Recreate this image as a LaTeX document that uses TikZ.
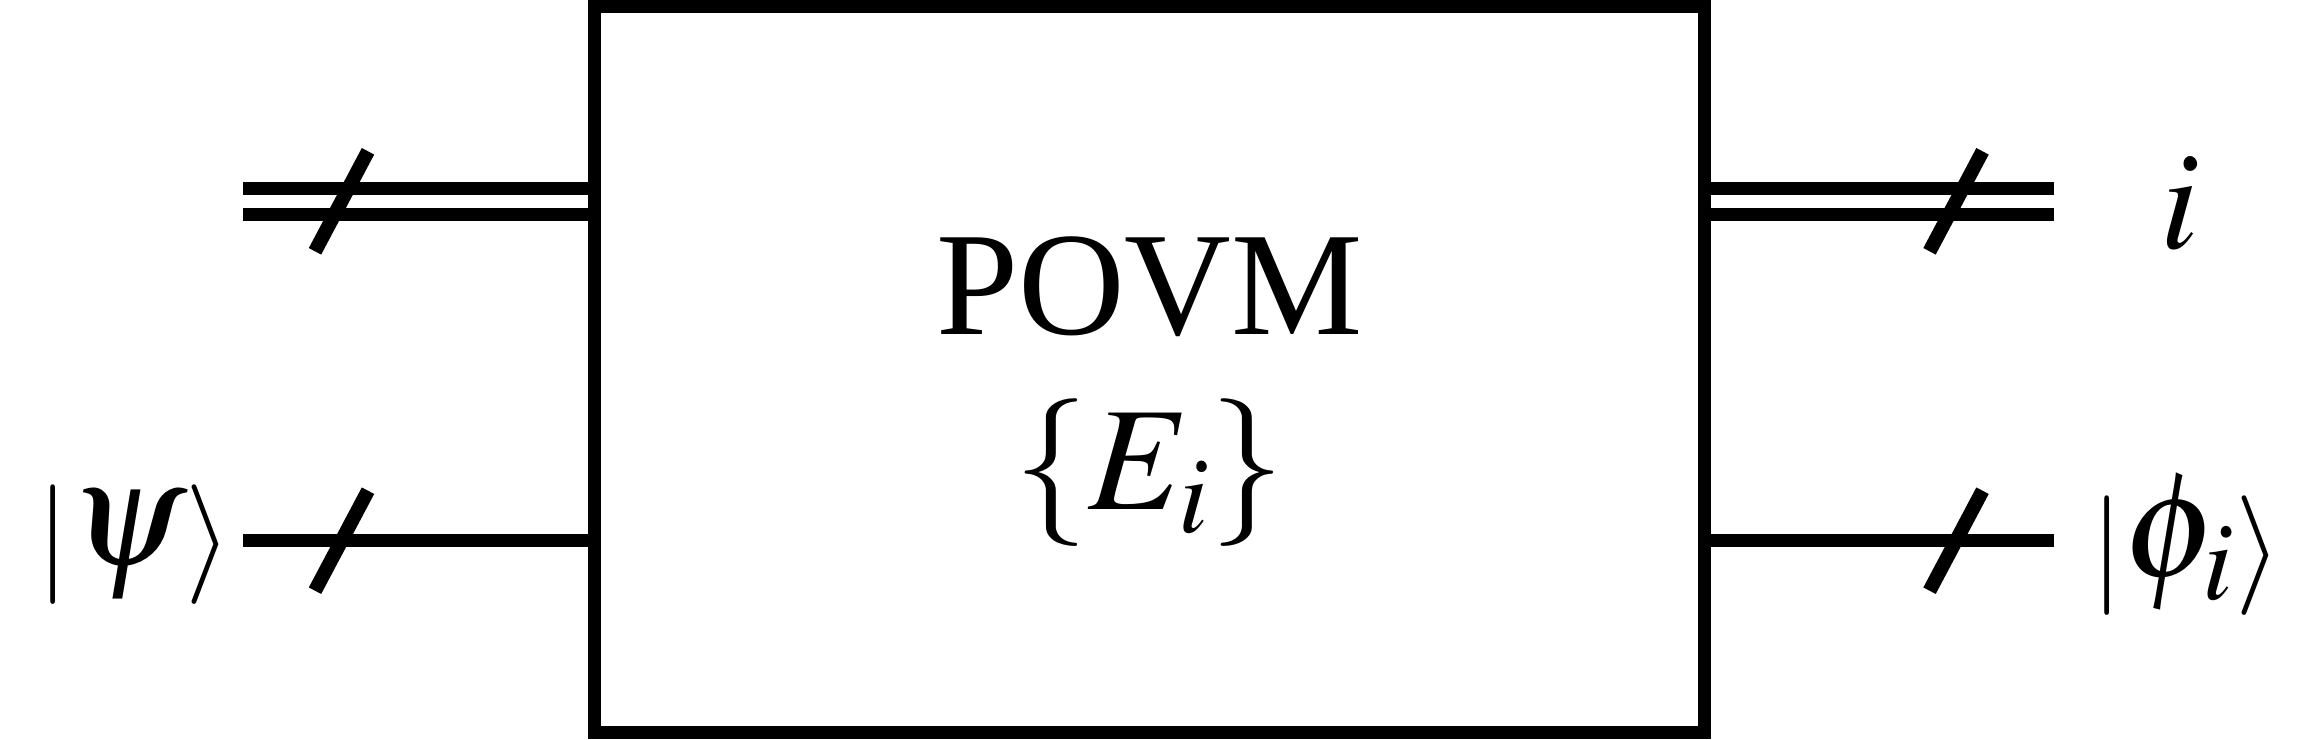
\documentclass[tikz,border=0pt]{standalone}
\usepackage{mathptmx}
\usepackage[no-math]{fontspec}
\setmainfont{Liberation Serif}
\usepackage{tikz}

\newcommand{\kdelim}[1]{\raisebox{-2.5pt}{\fontsize{34}{40}\selectfont$#1$}}

\tikzset{
  wire/.style={line width=0.13cm},
  cwire/.style={line width=0.13cm, double, double distance=0.134cm},
  slashline/.style={line width=0.14cm},
  lbl/.style={font=\fontsize{43}{50}\selectfont, inner sep=1pt}
}

\begin{document}
\begin{tikzpicture}[x=0.01cm, y=0.01cm]
    \useasboundingbox (0,0) rectangle (2310,739);

    \node[draw, line width=0.13cm, minimum width=11.09cm, minimum height=7.26cm] (povm) at (1149.5,369.5) {};
    \node[align=center, font=\fontsize{42}{48}\selectfont] (povmtxt) at ([yshift=-0.22cm]povm.center)
          {POVM\\[2pt] $\{E_i\}$};

    \coordinate (cin) at (243,537.7);
    \coordinate (qin) at (243,198.3);
    \coordinate (cout) at (2054,537.7);
    \coordinate (qout) at (2054,198.3);

    \node[lbl] (psi) at (134,194) {\kdelim{|}$\psi$\kdelim{\rangle}};
    \node[lbl, font=\fontsize{40}{48}\selectfont] (idx) at (2180,535) {$i$};
    \node[lbl] (phi) at (2186,194) {\kdelim{|}$\phi_i$\kdelim{\rangle}};

    \draw[cwire] (cin) -- (cin -| povm.west);
    \draw[wire] (qin) -- (qin -| povm.west);
    \draw[cwire] (cout -| povm.east) -- (cout);
    \draw[wire] (qout -| povm.east) -- (qout);

    % slashes on the wires
    \draw[slashline] (341.5,537.7) ++(-26.5,-50) -- ++(53,100);
    \draw[slashline] (341.5,198.3) ++(-26.5,-50) -- ++(53,100);
    \draw[slashline] (1956,537.7) ++(-26.5,-50) -- ++(53,100);
    \draw[slashline] (1956,198.3) ++(-26.5,-50) -- ++(53,100);
\end{tikzpicture}
\end{document}
